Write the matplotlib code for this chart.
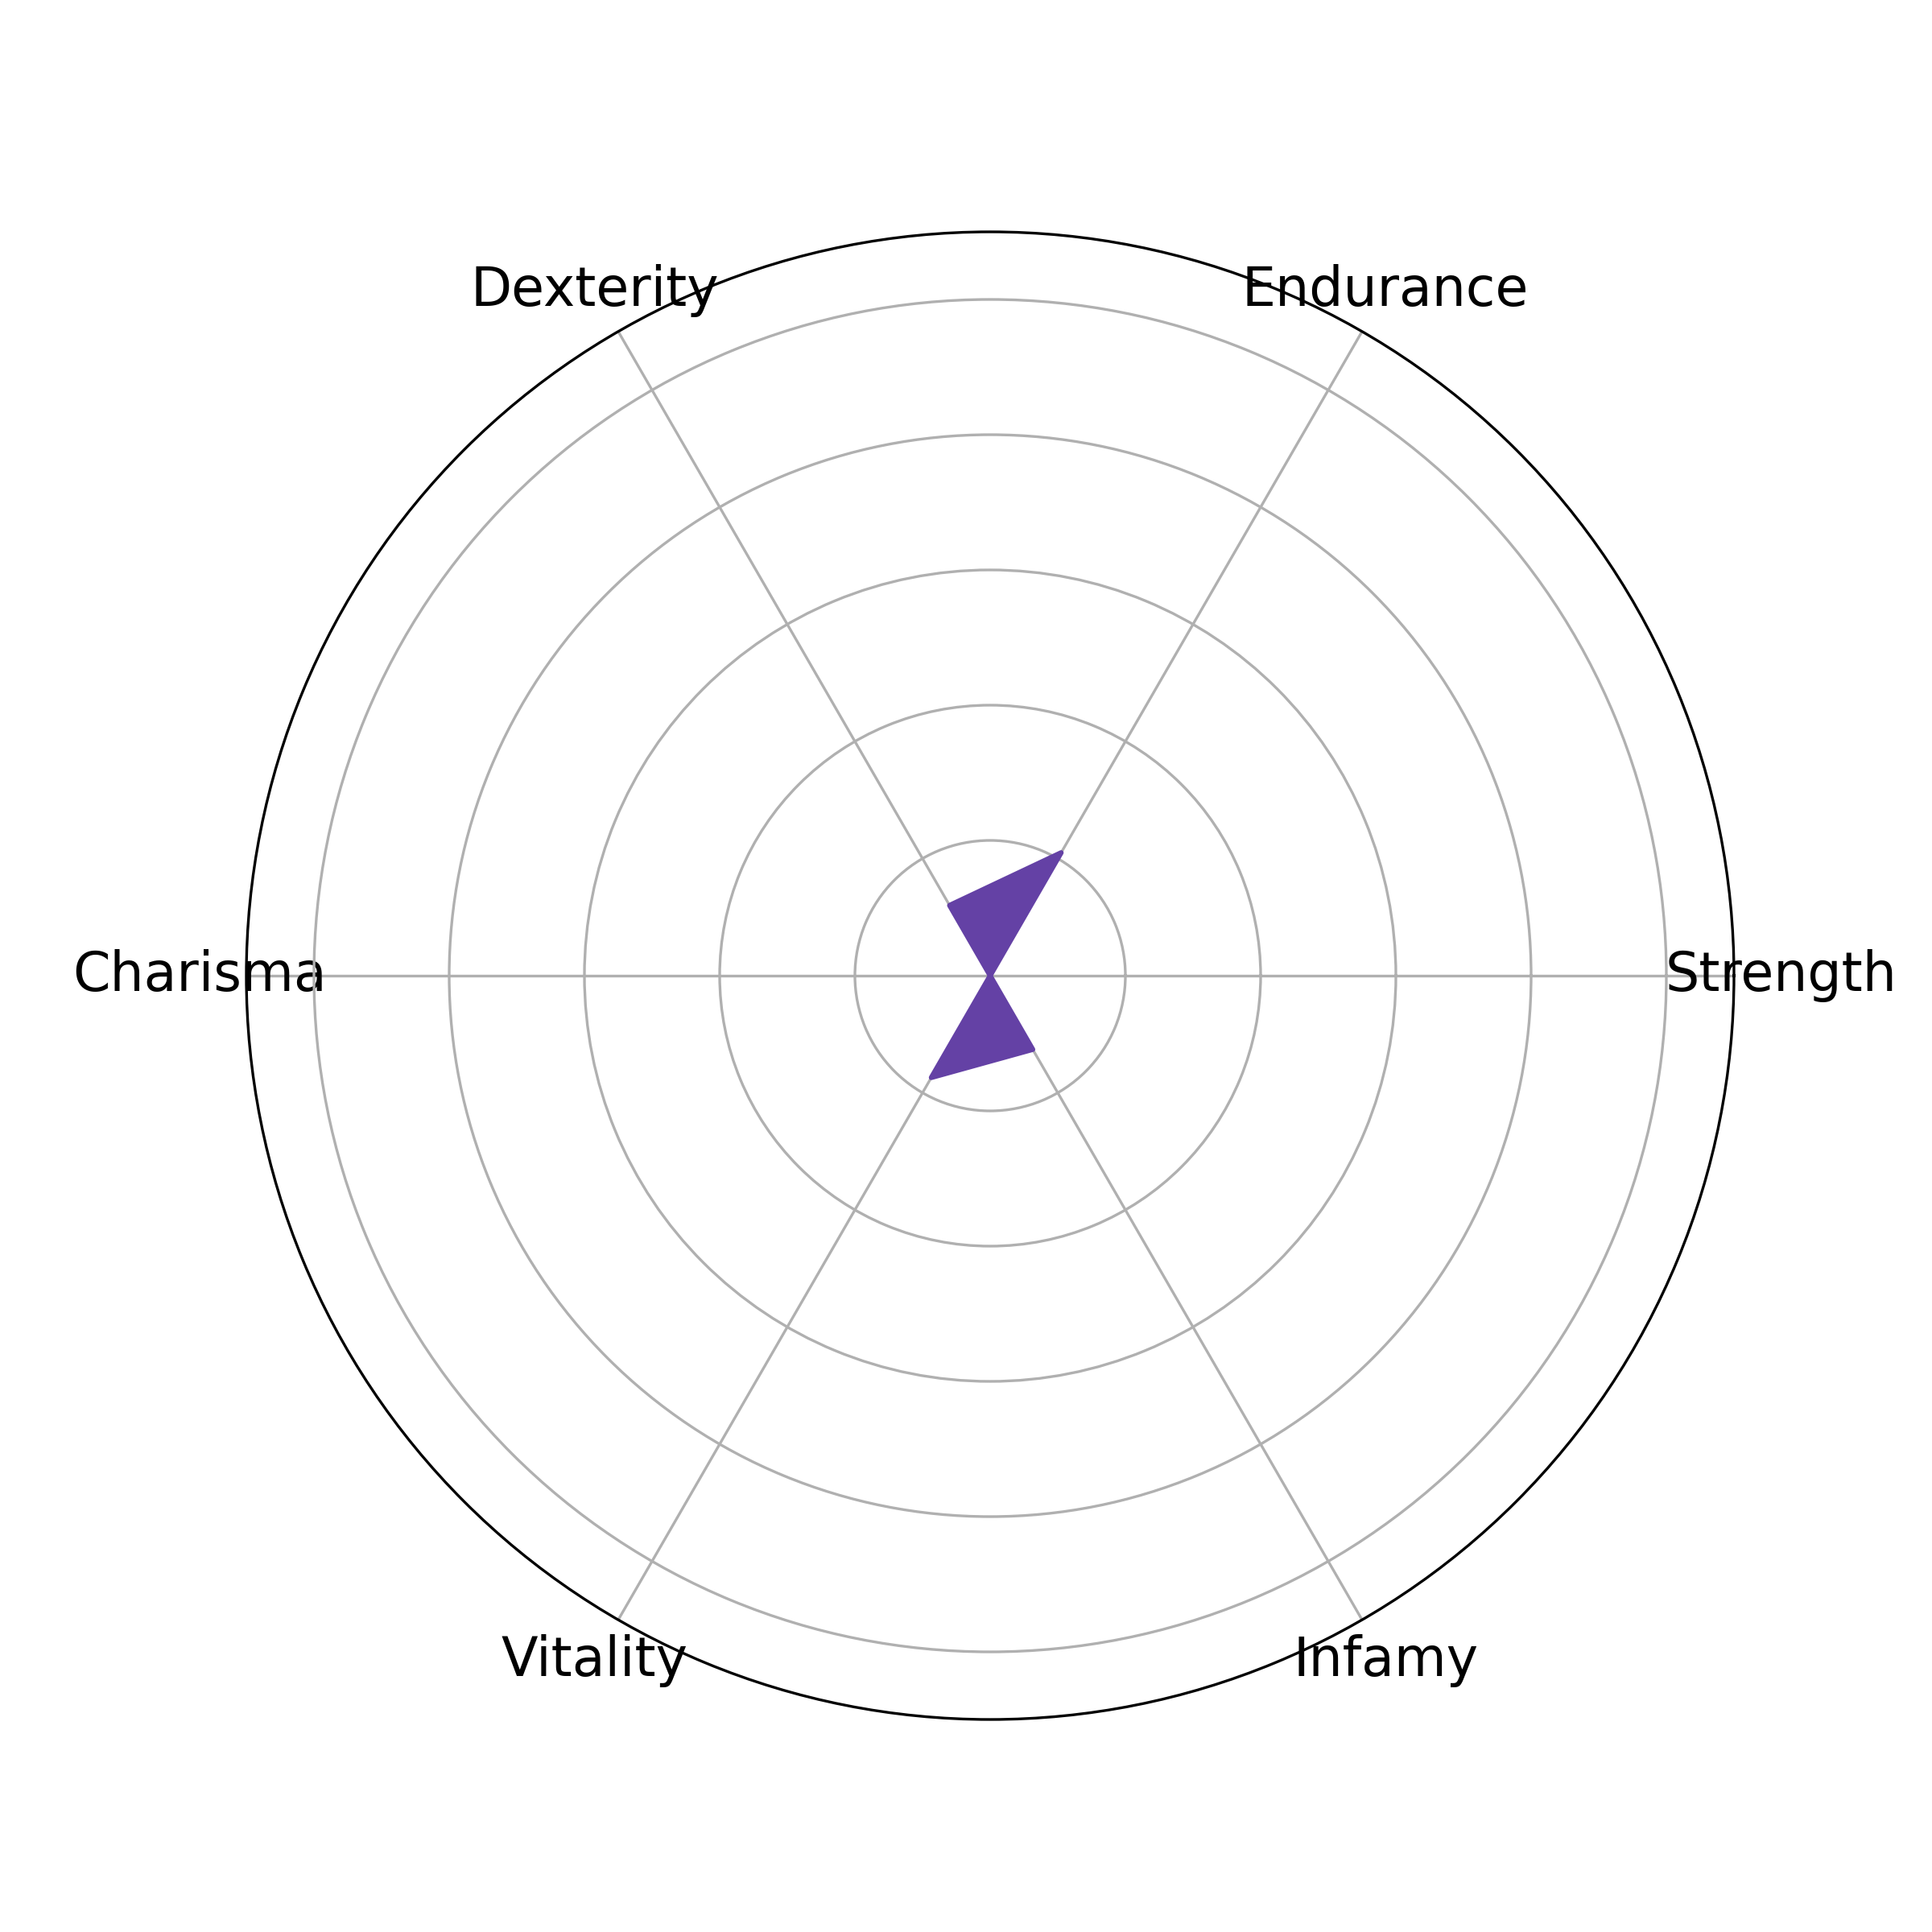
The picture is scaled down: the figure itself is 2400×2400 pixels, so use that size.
import numpy as np
import matplotlib.pyplot as plt

categories = ["Strength", "Endurance", "Dexterity", "Charisma", "Vitality", "Infamy"]
values = [0.0, 1.05, 0.6, 0.0, 0.87, 0.63]
grid_levels = [1, 2, 3, 4, 5]
r_max = 5.5

angles = np.linspace(0, 2 * np.pi, len(categories), endpoint=False)
a = np.concatenate([angles, angles[:1]])
v = values + values[:1]

fig = plt.figure(figsize=(8, 8), dpi=300)
ax = fig.add_subplot(111, polar=True)

# polygon sits on top of the grid
ax.fill(a, v, color="#6441a5", linewidth=1.5, joinstyle="round", zorder=2)

ax.set_xticks(angles)
ax.set_xticklabels(categories, fontsize=16)
ax.set_yticks(grid_levels)
ax.set_yticklabels([])
ax.set_ylim(0, r_max)

fig.savefig("out.png")
